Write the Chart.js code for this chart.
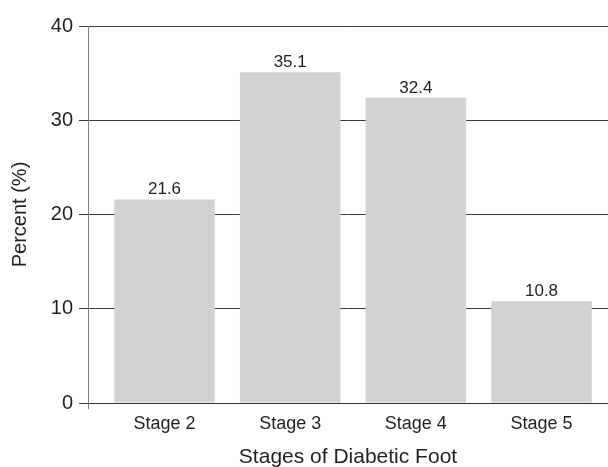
<!DOCTYPE html>
<html>
<head>
<meta charset="utf-8">
<script src="https://cdn.jsdelivr.net/npm/chart.js@4"></script>
<style>
  html, body { margin: 0; padding: 0; background: #fff; }
  #wrap { width: 608px; height: 467px; }
</style>
</head>
<body>
<div id="wrap"><canvas id="barChart"></canvas></div>
<script>
const categories = ['Stage 2', 'Stage 3', 'Stage 4', 'Stage 5'];
const percents = [21.6, 35.1, 32.4, 10.8];
const yTicks = [0, 10, 20, 30, 40];

const FONT = '"Liberation Sans", Arial, sans-serif';
const TEXT = '#231f20';
const X_MIN = -0.609, X_MAX = 3.529;

Chart.defaults.font.family = FONT;
Chart.defaults.color = TEXT;

// value labels above each bar, plus the short axis stub under the zero line
const barLabels = {
    id: 'barLabels',
    afterDatasetsDraw(chart) {
        const ctx = chart.ctx;
        const meta = chart.getDatasetMeta(0);
        const xs = chart.scales.x;
        ctx.save();
        ctx.strokeStyle = '#808080';
        ctx.lineWidth = 1;
        ctx.beginPath();
        ctx.moveTo(xs.left + 0.5, xs.top);
        ctx.lineTo(xs.left + 0.5, xs.top + 6);
        ctx.stroke();

        ctx.font = '17px ' + FONT;
        ctx.fillStyle = TEXT;
        ctx.textAlign = 'center';
        ctx.textBaseline = 'alphabetic';
        meta.data.forEach((bar, i) => {
            ctx.fillText(percents[i].toFixed(1), bar.x, bar.y - 5);
        });
        ctx.restore();
    }
};

new Chart(document.getElementById('barChart'), {
    type: 'bar',
    data: {
        datasets: [{
            data: percents.map((v, i) => ({ x: i, y: v })),
            backgroundColor: '#d1d2d4',
            borderWidth: 0,
            categoryPercentage: 1,
            barPercentage: 0.8
        }]
    },
    plugins: [barLabels],
    options: {
        responsive: true,
        maintainAspectRatio: false,
        animation: false,
        layout: { padding: { top: 26, right: 0, left: 0, bottom: 0 } },
        plugins: { legend: { display: false }, tooltip: { enabled: false } },
        scales: {
            x: {
                type: 'linear',
                min: X_MIN,
                max: X_MAX,
                offset: false,
                afterBuildTicks(axis) {
                    axis.ticks = categories.map((c, i) => ({ value: i }));
                },
                afterFit(axis) { axis.height = 64; },
                grid: {
                    display: true,
                    offset: false,
                    drawOnChartArea: false,
                    drawTicks: true,
                    tickLength: 6,
                    color: 'rgba(0,0,0,0)'
                },
                border: { display: true, color: '#333333', width: 1 },
                ticks: {
                    autoSkip: false,
                    maxRotation: 0,
                    padding: 4,
                    font: { size: 18 },
                    callback: v => categories[v]
                },
                title: {
                    display: true,
                    text: 'Stages of Diabetic Foot',
                    font: { size: 21, lineHeight: 1 },
                    padding: { top: 0, bottom: -1 }
                }
            },
            y: {
                min: 0,
                max: 40,
                afterBuildTicks(axis) {
                    axis.ticks = yTicks.map(v => ({ value: v }));
                },
                afterFit(axis) { axis.width = 88; },
                grid: {
                    color: '#3a3a3a',
                    drawTicks: true,
                    tickLength: 9
                },
                border: { display: true, color: '#808080', width: 1 },
                ticks: { padding: 6, font: { size: 20 } },
                title: {
                    display: true,
                    text: 'Percent (%)',
                    font: { size: 20 },
                    padding: { top: 8, bottom: 0 }
                }
            }
        }
    }
});
</script>
</body>
</html>
